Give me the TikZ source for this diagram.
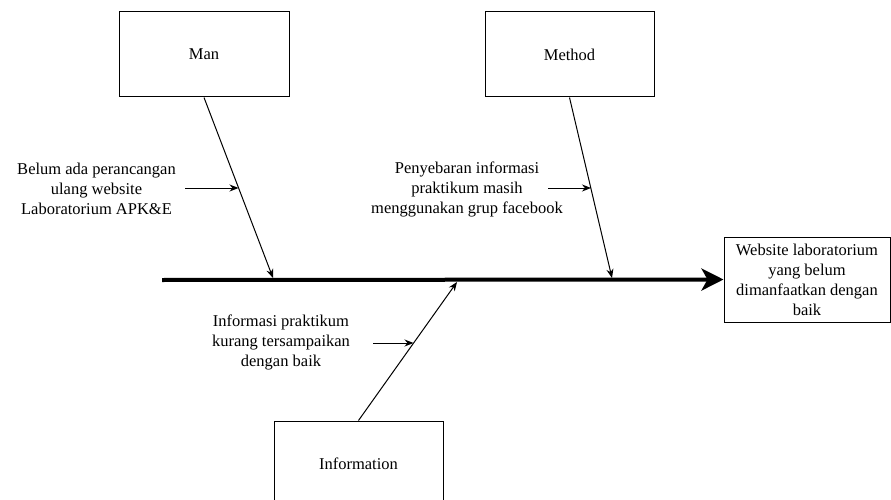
\documentclass[tikz,border=0pt]{standalone}
\usepackage{fontspec}
\setmainfont{Liberation Serif}
\usetikzlibrary{arrows.meta}
\begin{document}
\begin{tikzpicture}[x=1pt,y=-1pt,
  cat/.style={draw,line width=1pt,minimum width=170pt,minimum height=85pt,inner sep=0pt,font=\fontsize{16.5pt}{20pt}\selectfont},
  lbl/.style={align=center,inner sep=0pt,font=\fontsize{16.5pt}{20pt}\selectfont},
  bone/.style={line width=1pt,-{Stealth[length=9pt,width=7pt]}},
  subarrow/.style={line width=1pt,-{Stealth[length=9pt,width=7pt]}},
  spine/.style={line width=4pt,-{Stealth[length=22pt,width=22pt,inset=6pt]}}]
\clip (0,0) rectangle (891,500);
\useasboundingbox (0,0) rectangle (891,500);
\fill[white] (0,0) rectangle (891,500);

\node[cat] (man) at (204,54.5) {Man};
\node[cat,minimum width=169pt] (method) at (569.5,54.5) {Method};
\node[cat,minimum width=169pt] (info) at (358.5,463.5) {Information};
\node[draw,line width=1pt,minimum width=166pt,minimum height=85pt,inner sep=0pt] (effect) at (807,279.5) {};
\node[lbl] (effecttxt) at (807,280) {Website laboratorium\\yang belum\\dimanfaatkan dengan\\baik};

\coordinate (s0) at (162,280);
\coordinate (sman) at (273,278);
\coordinate (smethod) at (612,278);
\coordinate (sinfo) at (457,282);
\draw[spine] (s0) -- (effect.west);

\draw[bone] (man.south) -- (sman);
\draw[bone] (method.south) -- (smethod);
\draw[bone] (info.north) -- (sinfo);

\node[lbl] (lman) at (96.5,189) {Belum ada perancangan\\ulang website\\Laboratorium APK\&E};
\node[lbl] (lmethod) at (467,189) {Penyebaran informasi\\praktikum masih\\menggunakan grup facebook};
\node[lbl] (linfo) at (281,342) {Informasi praktikum\\kurang tersampaikan\\dengan baik};

\coordinate (aman0) at (185,188);
\coordinate (aman1) at (238.5,188);
\coordinate (ameth0) at (548,188);
\coordinate (ameth1) at (591,188);
\coordinate (ainfo0) at (373,343);
\coordinate (ainfo1) at (413.5,343);
\draw[subarrow] (aman0) -- (aman1);
\draw[subarrow] (ameth0) -- (ameth1);
\draw[subarrow] (ainfo0) -- (ainfo1);
\end{tikzpicture}
\end{document}
